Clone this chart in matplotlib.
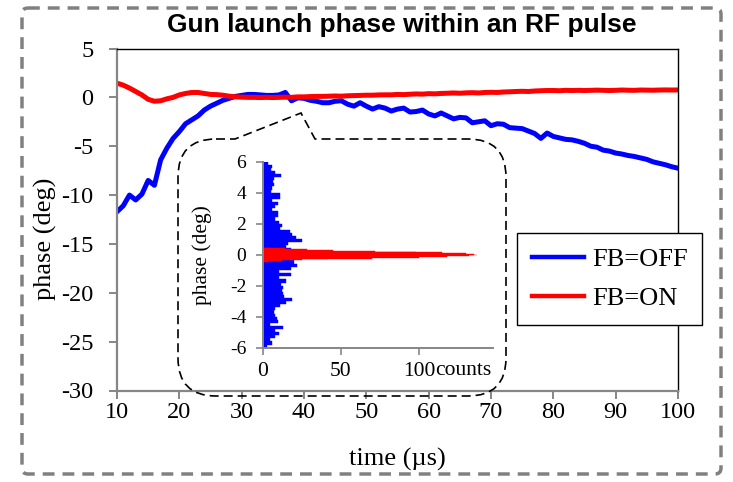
import numpy as np
import matplotlib
matplotlib.use("Agg")
import matplotlib.pyplot as plt
from matplotlib.path import Path
from matplotlib.patches import PathPatch, FancyBboxPatch
from matplotlib.transforms import Affine2D

# main plot: launch phase vs time, one sample per microsecond
time_us = np.arange(10, 101)
phase_fb_off = [
    -11.7, -11.1, -10.0, -10.5, -9.9, -8.5, -9.0, -6.4, -5.2, -4.2,
    -3.5, -2.7, -2.3, -1.9, -1.3, -0.9, -0.6, -0.3, -0.1, 0.1,
    0.2, 0.3, 0.3, 0.25, 0.2, 0.2, 0.25, 0.5, -0.35, -0.05,
    -0.1, -0.3, -0.4, -0.55, -0.55, -0.4, -0.35, -0.7, -0.9, -0.55,
    -0.9, -1.2, -0.95, -1.1, -1.4, -1.2, -1.1, -1.5, -1.45, -1.3,
    -1.7, -1.9, -1.6, -1.9, -2.2, -2.05, -2.1, -2.6, -2.5, -2.4,
    -2.9, -2.7, -2.75, -3.1, -3.15, -3.2, -3.45, -3.7, -4.2, -3.65,
    -4.0, -4.15, -4.3, -4.35, -4.5, -4.7, -5.0, -5.1, -5.4, -5.5,
    -5.7, -5.8, -5.95, -6.05, -6.2, -6.35, -6.6, -6.75, -6.9, -7.1,
    -7.25,
]
phase_fb_on = [
    1.45, 1.25, 0.95, 0.6, 0.25, -0.2, -0.4, -0.35, -0.15, 0.0,
    0.25, 0.4, 0.5, 0.5, 0.4, 0.3, 0.28, 0.22, 0.12, 0.06,
    0.02, 0.0, 0.0, -0.02, 0.0, -0.02, 0.0, 0.02, 0.0, 0.05,
    0.05, 0.08, 0.1, 0.1, 0.12, 0.14, 0.12, 0.16, 0.18, 0.2,
    0.22, 0.22, 0.25, 0.26, 0.26, 0.3, 0.28, 0.32, 0.35, 0.33,
    0.38, 0.36, 0.4, 0.42, 0.45, 0.42, 0.46, 0.48, 0.45, 0.5,
    0.52, 0.5, 0.55, 0.57, 0.6, 0.62, 0.6, 0.65, 0.68, 0.7,
    0.7, 0.68, 0.72, 0.7, 0.72, 0.7, 0.72, 0.74, 0.72, 0.7,
    0.72, 0.75, 0.73, 0.72, 0.75, 0.74, 0.73, 0.75, 0.76, 0.75,
    0.76,
]

# inset: phase histograms (bin lower edges in deg, counts)
off_bin_w = 0.2
off_bins = np.arange(-6.0, 6.0, off_bin_w)
off_counts = [
    2.5, 5.5, 4.5, 8, 10, 7.7, 13, 4.5, 9.4, 8.8,
    7.7, 7, 8, 11, 14.5, 18.5, 13.5, 13, 12.5, 13,
    11.5, 15, 10, 18, 10, 18, 22, 20, 20, 20,
    20, 18, 15, 16, 25, 21, 18.5, 17, 11, 12,
    10, 7.7, 9.5, 9.5, 6, 8, 9.5, 5.5, 11, 11,
    5, 5.5, 7, 6.5, 7, 11.5, 7.7, 5, 5.5, 3,
]
on_bin_w = 0.05
on_bins = np.arange(-0.45, 0.449, on_bin_w)
on_counts = [4, 12, 25, 42, 70, 100, 118, 132, 137,
             135, 130, 115, 98, 72, 45, 28, 14, 5]

plt.rcParams['font.family'] = ['Liberation Serif', 'DejaVu Serif']
plt.rcParams['axes.unicode_minus'] = False

W, H = 733, 482
fig = plt.figure(figsize=(W / 100, H / 100), dpi=100)
# pixel coords, origin top-left, for the drawn decorations
px = Affine2D().scale(1.0 / W, -1.0 / H).translate(0, 1) + fig.transFigure

grey = '#868686'
ax = fig.add_axes([117 / W, 1 - 390.5 / H, (678 - 117) / W, (390.5 - 48.5) / H])
ax.plot(time_us, phase_fb_off, color='#0000ff', lw=3.6, label='FB=OFF')
ax.plot(time_us, phase_fb_on, color='#ff0000', lw=3.6, label='FB=ON')
ax.set_xlim(10, 100)
ax.set_ylim(-30, 5)
ax.set_xticks(range(10, 101, 10))
ax.set_yticks(range(-30, 6, 5))
for side in ('left', 'bottom'):
    ax.spines[side].set_color(grey)
    ax.spines[side].set_linewidth(1.6)
for side in ('top', 'right'):
    ax.spines[side].set_color('black')
    ax.spines[side].set_linewidth(1.0)
ax.tick_params(axis='both', direction='out', length=6, width=1.4, color=grey, labelsize=17.5)
ax.tick_params(axis='x', pad=2)
ax.tick_params(axis='y', pad=11)
ax.set_xlabel('time (µs)', fontsize=19)
ax.xaxis.set_label_coords(0.5, (390.5 - 448) / 342)
ax.set_ylabel('phase (deg)', fontsize=19)
ax.yaxis.set_label_coords((57 - 117) / 561, (390.5 - 239) / 342)

fig.text(402 / W, 1 - 25 / H, 'Gun launch phase within an RF pulse',
         family='Liberation Sans', fontweight='bold', fontsize=19,
         ha='center', va='center')

leg = fig.legend(loc='upper left', bbox_to_anchor=(517 / W, 1 - 233 / H),
                 fontsize=19, frameon=True, fancybox=False, framealpha=1,
                 edgecolor='black', handlelength=2.0, handletextpad=0.3,
                 borderpad=0.55, labelspacing=0.6, borderaxespad=0)
leg.get_frame().set_linewidth(1.0)
for line in leg.get_lines():
    line.set_linewidth(3.2)

# inset histogram
ax2 = fig.add_axes([263 / W, 1 - 347.7 / H, 230 / W, 186 / H])
ax2.barh(off_bins, off_counts, height=off_bin_w, align='edge',
         color='#0000ff', edgecolor='#0000ff', linewidth=0.3)
ax2.barh(on_bins, on_counts, height=on_bin_w, align='edge',
         color='#ff0000', edgecolor='#ff0000', linewidth=0.3)
ax2.set_xlim(0, 147.5)
ax2.set_ylim(-6, 6)
ax2.set_xticks([0, 50, 100])
ax2.set_yticks(range(-6, 7, 2))
for side in ('top', 'right'):
    ax2.spines[side].set_visible(False)
for side in ('left', 'bottom'):
    ax2.spines[side].set_color(grey)
    ax2.spines[side].set_linewidth(1.4)
ax2.tick_params(axis='both', direction='out', length=5, width=1.2, color=grey)
ax2.tick_params(axis='x', labelsize=15.5, pad=5)
ax2.tick_params(axis='y', labelsize=14, pad=7)
ax2.set_ylabel('phase (deg)', fontsize=15.5)
ax2.yaxis.set_label_coords((212 - 263) / 230, 0.5)
ax2.annotate('counts', xy=(100, 0), xycoords=('data', 'axes fraction'),
             xytext=(16, -13), textcoords='offset pixels',
             ha='left', va='top', fontsize=15.5)

# dashed callout around the inset
x0, x1, y0, y1, r = 178, 506, 139, 396, 38
verts = [(x0 + r, y0), (235, y0), (301, 113), (315, y0), (x1 - r, y0),
         (x1, y0), (x1, y0 + r), (x1, y1 - r), (x1, y1), (x1 - r, y1),
         (x0 + r, y1), (x0, y1), (x0, y1 - r), (x0, y0 + r), (x0, y0), (x0 + r, y0)]
codes = [Path.MOVETO, Path.LINETO, Path.LINETO, Path.LINETO, Path.LINETO,
         Path.CURVE3, Path.CURVE3, Path.LINETO, Path.CURVE3, Path.CURVE3,
         Path.LINETO, Path.CURVE3, Path.CURVE3, Path.LINETO, Path.CURVE3, Path.CURVE3]
fig.add_artist(PathPatch(Path(verts, codes), transform=px, facecolor='none',
                         edgecolor='black', lw=1.2, linestyle=(0, (5.4, 3.0))))

# outer dashed frame
fig.add_artist(FancyBboxPatch((22, 8), 699, 466, boxstyle='round,pad=0,rounding_size=6',
                              transform=px, facecolor='none', edgecolor='#808080',
                              lw=2.5, linestyle=(0, (3.4, 2.3))))

fig.savefig('out.png', dpi=100)
